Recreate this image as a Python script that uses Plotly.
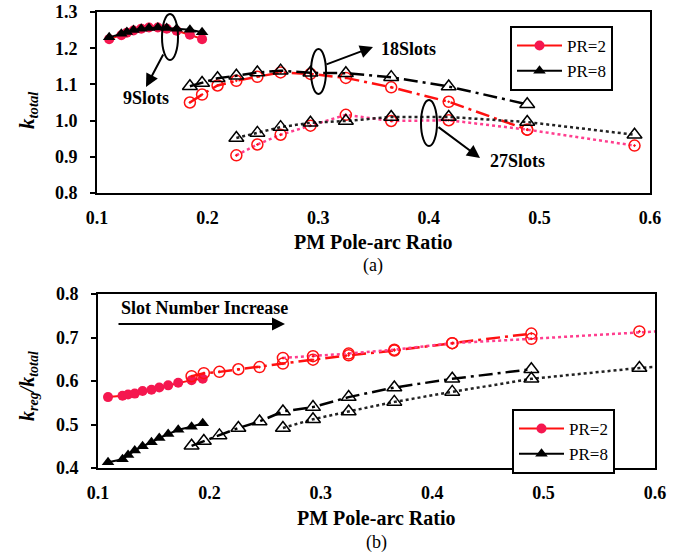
import plotly.graph_objects as go

# ---------------- data ----------------
# (a) k_total
x9 = [0.111, 0.122, 0.127, 0.133, 0.140, 0.147, 0.155, 0.163, 0.172, 0.184, 0.195]
x18 = [0.184, 0.195, 0.209, 0.226, 0.245, 0.266, 0.293, 0.325, 0.366, 0.418, 0.489]
x27 = [0.226, 0.245, 0.266, 0.293, 0.325, 0.366, 0.418, 0.489, 0.586]

a9_pr2 = [1.225, 1.236, 1.243, 1.249, 1.254, 1.257, 1.257, 1.254, 1.248, 1.237, 1.225]
a9_pr8 = [1.230, 1.240, 1.245, 1.250, 1.254, 1.256, 1.257, 1.256, 1.254, 1.251, 1.244]
a18_pr2 = [1.050, 1.072, 1.097, 1.110, 1.121, 1.133, 1.129, 1.118, 1.092, 1.052, 0.975]
a18_pr8 = [1.095, 1.104, 1.117, 1.124, 1.133, 1.138, 1.132, 1.131, 1.120, 1.094, 1.045]
a27_pr2 = [0.904, 0.934, 0.961, 0.986, 1.016, 0.999, 1.001, 0.975, 0.931]
a27_pr8 = [0.952, 0.966, 0.982, 0.994, 0.999, 1.010, 1.010, 0.996, 0.961]

# (b) k_reg / k_total
x9b = [0.109, 0.122, 0.127, 0.133, 0.140, 0.148, 0.155, 0.163, 0.172, 0.184, 0.194]
x27b = [0.266, 0.293, 0.325, 0.366, 0.418, 0.489, 0.586, 0.680]

b9_pr2 = [0.563, 0.566, 0.569, 0.571, 0.577, 0.580, 0.585, 0.590, 0.596, 0.602, 0.605]
b9_pr8 = [0.413, 0.420, 0.430, 0.440, 0.450, 0.459, 0.469, 0.478, 0.488, 0.495, 0.503]
b18_pr2 = [0.611, 0.618, 0.621, 0.627, 0.632, 0.640, 0.649, 0.659, 0.670, 0.687, 0.709]
b18_pr8 = [0.451, 0.462, 0.475, 0.492, 0.507, 0.530, 0.540, 0.563, 0.585, 0.605, 0.627]
b27_pr2 = [0.653, 0.657, 0.663, 0.672, 0.687, 0.697, 0.714, 0.726]
b27_pr8 = [0.492, 0.512, 0.530, 0.552, 0.575, 0.605, 0.630, 0.646]

x_ticks = [0.1, 0.2, 0.3, 0.4, 0.5, 0.6]
x_ticklabels = ["0.1", "0.2", "0.3", "0.4", "0.5", "0.6"]
ya_ticks = [0.8, 0.9, 1.0, 1.1, 1.2, 1.3]
ya_ticklabels = ["0.8", "0.9", "1.0", "1.1", "1.2", "1.3"]
yb_ticks = [0.4, 0.5, 0.6, 0.7, 0.8]
yb_ticklabels = ["0.4", "0.5", "0.6", "0.7", "0.8"]

# ---------------- styling ----------------
W, H = 684, 552
OFF = 0  # body margin removed in the page below
SERIF = "Liberation Serif, Times New Roman, serif"
RED = "#ff1010"
PINK_FILL = "#f5174f"
PINK_DOT = "#ff3d8e"
BLACK = "#000000"
DASHDOT = "14px,5px,3px,5px"


def px(x):
    return (x - OFF) / W


def py(y):
    return 1 - (y - OFF) / H


fig = go.Figure()


def add_set(xa, ya, x9v, y9_2, y9_8, x18v, y18_2, y18_8, x27v, y27_2, y27_8, leg):
    # 9 slots
    fig.add_trace(go.Scatter(x=x9v, y=y9_2, mode="lines+markers", name="PR=2",
                             line=dict(color=RED, width=2),
                             marker=dict(symbol="circle", size=10, color=PINK_FILL),
                             xaxis=xa, yaxis=ya, legend=leg, cliponaxis=False))
    fig.add_trace(go.Scatter(x=x9v, y=y9_8, mode="lines+markers", name="PR=8",
                             line=dict(color=BLACK, width=2),
                             marker=dict(symbol="triangle-up", size=11, color=BLACK),
                             xaxis=xa, yaxis=ya, legend=leg, cliponaxis=False))
    # 18 slots
    fig.add_trace(go.Scatter(x=x18v, y=y18_2, mode="lines+markers", showlegend=False,
                             line=dict(color=RED, width=2.5, dash=DASHDOT),
                             marker=dict(symbol="circle-open-dot", size=11, color=RED,
                                         line=dict(width=1.5)),
                             xaxis=xa, yaxis=ya))
    fig.add_trace(go.Scatter(x=x18v, y=y18_8, mode="lines+markers", showlegend=False,
                             line=dict(color=BLACK, width=2.5, dash=DASHDOT),
                             marker=dict(symbol="triangle-up-open", size=13, color=BLACK,
                                         line=dict(width=1.5)),
                             xaxis=xa, yaxis=ya))
    # 27 slots
    fig.add_trace(go.Scatter(x=x27v, y=y27_2, mode="lines+markers", showlegend=False,
                             line=dict(color=PINK_DOT, width=2.5, dash="dot"),
                             marker=dict(symbol="circle-open-dot", size=11, color=RED,
                                         line=dict(width=1.5)),
                             xaxis=xa, yaxis=ya))
    fig.add_trace(go.Scatter(x=x27v, y=y27_8, mode="lines+markers", showlegend=False,
                             line=dict(color="#222222", width=2.5, dash="dot"),
                             marker=dict(symbol="triangle-up-open", size=13, color=BLACK,
                                         line=dict(width=1.5)),
                             xaxis=xa, yaxis=ya))


add_set("x", "y", x9, a9_pr2, a9_pr8, x18, a18_pr2, a18_pr8, x27, a27_pr2, a27_pr8, "legend")
add_set("x2", "y2", x9b, b9_pr2, b9_pr8, x18, b18_pr2, b18_pr8, x27b, b27_pr2, b27_pr8, "legend2")

tickfont = dict(family=SERIF, size=18, color="black", weight="bold")
axis_common = dict(showline=True, linecolor="black", linewidth=2, mirror=True,
                   showgrid=False, zeroline=False, tickfont=tickfont, automargin=False,
                   ticklabeloverflow="allow")

legend_common = dict(font=dict(family=SERIF, size=17, color="black"),
                     bordercolor="black", borderwidth=2, bgcolor="white",
                     xanchor="left", yanchor="top", tracegroupgap=0,
                     itemwidth=45)

fig.update_layout(
    width=W, height=H,
    margin=dict(l=0, r=0, t=0, b=0),
    paper_bgcolor="white", plot_bgcolor="white",
    font=dict(family=SERIF, color="black"),
    xaxis=dict(domain=[px(97), px(650)], range=[0.1, 0.6], anchor="y",
               tickvals=x_ticks, ticktext=x_ticklabels, ticks="",
               ticklabelstandoff=7, **axis_common),
    yaxis=dict(domain=[py(193), py(12)], range=[0.8, 1.3], anchor="x",
               tickvals=ya_ticks, ticktext=ya_ticklabels, ticks="outside",
               ticklen=5, tickwidth=2, tickcolor="black",
               ticklabelstandoff=9, **axis_common),
    xaxis2=dict(domain=[px(98), px(655)], range=[0.1, 0.6], anchor="y2",
                tickvals=x_ticks, ticktext=x_ticklabels, ticks="",
                ticklabelstandoff=7, **axis_common),
    yaxis2=dict(domain=[py(468), py(294)], range=[0.4, 0.8], anchor="x2",
                tickvals=yb_ticks, ticktext=yb_ticklabels, ticks="outside",
                ticklen=5, tickwidth=2, tickcolor="black",
                ticklabelstandoff=9, **axis_common),
    legend=dict(x=px(510), y=py(26), **legend_common),
    legend2=dict(x=px(512), y=py(409), **legend_common),
)

# ellipses
for (x0, x1, y0, y1) in [(162, 178, 14, 60), (311, 326, 49, 94), (421, 437, 100, 146)]:
    fig.add_shape(type="circle", xref="paper", yref="paper",
                  x0=px(x0), x1=px(x1), y0=py(y1), y1=py(y0),
                  line=dict(color="black", width=2))

ann = []


def arrow(tail, head):
    ann.append(dict(x=px(head[0]), y=py(head[1]), xref="paper", yref="paper",
                    ax=tail[0] - head[0], ay=tail[1] - head[1], axref="pixel", ayref="pixel",
                    text="", showarrow=True, arrowhead=2, arrowsize=1.3, arrowwidth=2,
                    arrowcolor="black"))


def label(text, x, y, size=18, bold=True, angle=0, anchor="center"):
    t = f"<b>{text}</b>" if bold else text
    ann.append(dict(x=px(x), y=py(y), xref="paper", yref="paper", text=t,
                    showarrow=False, textangle=angle, xanchor=anchor, yanchor="middle",
                    font=dict(family=SERIF, size=size, color="black")))


arrow((164, 53), (146, 87))
arrow((325, 65), (373, 47))
arrow((437, 126), (480, 158))
arrow((117, 324), (285, 324))

label("9Slots", 146, 98)
label("18Slots", 408, 49)
label("27Slots", 517, 161)
label("Slot Number Increase", 204, 308)

label("PM Pole-arc Ratio", 373, 242, size=20)
label("PM Pole-arc Ratio", 376, 518, size=20)
label("(a)", 373, 265, size=18, bold=False)
label("(b)", 376, 542, size=18, bold=False)

label("<i>k</i><sub><i>total</i></sub>", 28, 110, size=21, angle=-90)
label("<i>k</i><sub><i>reg</i></sub><i>/k</i><sub><i>total</i></sub>", 28, 386, size=20, angle=-90)

fig.update_layout(annotations=ann)

fig.write_html("out.html", config={"displayModeBar": False},
               post_script="document.body.style.margin='0px';")
